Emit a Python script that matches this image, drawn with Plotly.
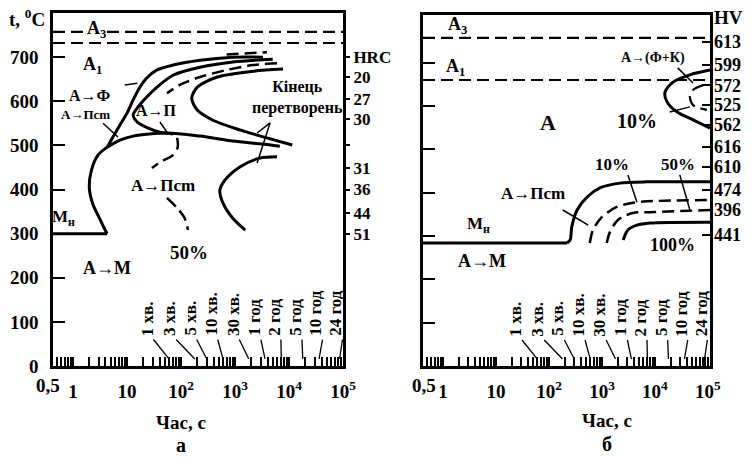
import plotly.graph_objects as go

# ================= DATA =================
# ---- panel (a) ----
A3_LEFT = 757
A1_LEFT = 732
MS_LEFT = 300

FERRITE_START_T = [3300, 910, 225, 71, 36, 23, 17, 13, 10, 7.4, 5.5, 4.3]
FERRITE_START_C = [700, 700, 693, 682, 671, 652, 630, 603, 573, 546, 519, 496]

FERRITE_50_T = [700, 3900]
FERRITE_50_C = [706, 711]

PEARLITE_START_T = [5000, 910, 225, 71, 36, 23, 16, 13, 15.5, 23, 41, 71]
PEARLITE_START_C = [695, 689, 677, 659, 632, 609, 587, 569, 553, 541, 530, 526]

PEARLITE_50_T = [6000, 2140, 710, 225, 95, 55]
PEARLITE_50_C = [686, 682, 671, 655, 637, 618]

PEARLITE_END_T = [7760, 2140, 470, 200, 158, 200, 390, 1230, 3890, 11500]
PEARLITE_END_C = [673, 668, 655, 632, 607, 580, 557, 535, 517, 501]

BAINITE_TOP_T = [4.3, 7.4, 13, 55, 225, 910, 3160, 6760]
BAINITE_TOP_C = [496, 512, 521, 528, 521, 510, 503, 498]

BAINITE_LOW_T = [4.3, 2.9, 2.2, 2.0, 2.3, 3.2, 4.1, 4.3]
BAINITE_LOW_C = [496, 478, 444, 406, 369, 331, 304, 300]

BAINITE_50A_T = [85, 87, 71, 41, 29]
BAINITE_50A_C = [517, 496, 478, 462, 449]
BAINITE_50B_T = [55, 85, 117, 135]
BAINITE_50B_C = [381, 358, 335, 308]

BAINITE_END_T = [6000, 2880, 1230, 650, 525, 600, 910, 1550]
BAINITE_END_C = [474, 471, 451, 421, 399, 369, 335, 308]

HRC_AT_C = [700, 655, 604, 560, 500, 449, 400, 347, 300]
HRC_TEXT = ["HRC", "20", "27", "30", "", "31", "36", "44", "51"]

# ---- panel (б) ----
A3_RIGHT = 757
A1_RIGHT = 660
MS_RIGHT = 284

FK_START_T = [110000, 45700, 21900, 15500, 17000, 26300, 52500, 110000]
FK_START_C = [683, 672, 655, 632, 609, 586, 568, 549]

FK_10_T = [81300, 52500, 45700, 52500, 95500]
FK_10_C = [648, 637, 621, 602, 591]

BS_START_T = [219, 251, 269, 339, 525, 912, 2188, 7079, 110000]
BS_START_C = [284, 291, 321, 360, 390, 411, 422, 425, 425]

BS_10_T = [589, 676, 1000, 1905, 4571, 110000]
BS_10_C = [284, 314, 344, 367, 378, 383]

BS_50_T = [1230, 1413, 1995, 3802, 8128, 110000]
BS_50_C = [284, 309, 337, 353, 355, 360]

BS_100_T = [2512, 3090, 4571, 8128, 110000]
BS_100_C = [291, 314, 325, 330, 332]

HV_AT_C = [748, 695, 648, 602, 556, 505, 459, 406, 360, 302]
HV_TEXT = ["613", "599", "572", "525", "562", "616", "610", "474", "396", "441"]

# ---- shared time scale ----
TIME_MARK_S = [60, 180, 300, 600, 1800, 3600, 7200, 18000, 36000, 86400]
TIME_MARK_TEXT = ["1 хв.", "3 хв.", "5 хв.", "10 хв.", "30 хв.",
                  "1 год", "2 год", "5 год", "10 год", "24 год"]
TIME_LABEL_LOG = [1.37, 1.79, 2.17, 2.56, 2.96, 3.36, 3.73, 4.12, 4.50, 4.87]

X_TICK_VALUES = [1, 10, 100, 1000, 10000, 100000]
X_TICK_TEXT = ["1", "10", "10<sup>2</sup>", "10<sup>3</sup>", "10<sup>4</sup>", "10<sup>5</sup>"]
Y_TICKS = [0, 100, 200, 300, 400, 500, 600, 700]

# ================= FIGURE =================
FONT = "Liberation Serif, Times New Roman, serif"
W, H = 754, 457

fig = go.Figure()


def curve(t, c, xa, ya, dash="solid", width=3.0, smooth=True):
    fig.add_trace(go.Scatter(
        x=t, y=c, mode="lines", xaxis=xa, yaxis=ya,
        line=dict(color="black", width=width, dash=dash,
                  shape="spline" if smooth else "linear", smoothing=0.8),
        showlegend=False, hoverinfo="skip", cliponaxis=True))


DASH = "12px,6px"
XL0 = 10 ** -0.37
XR0 = 10 ** -0.38
XR1 = 10 ** 5.04

# panel a
curve([XL0, 1e5], [A3_LEFT, A3_LEFT], "x", "y", DASH, 2.2, False)
curve([XL0, 1e5], [A1_LEFT, A1_LEFT], "x", "y", DASH, 2.2, False)
curve(FERRITE_START_T, FERRITE_START_C, "x", "y")
curve(FERRITE_50_T, FERRITE_50_C, "x", "y", DASH, 2.5)
curve(PEARLITE_START_T, PEARLITE_START_C, "x", "y")
curve(PEARLITE_50_T, PEARLITE_50_C, "x", "y", DASH, 2.5)
curve(PEARLITE_END_T, PEARLITE_END_C, "x", "y")
curve(BAINITE_TOP_T, BAINITE_TOP_C, "x", "y")
curve(BAINITE_LOW_T, BAINITE_LOW_C, "x", "y")
curve([BAINITE_LOW_T[-1], XL0], [MS_LEFT, MS_LEFT], "x", "y", "solid", 3, False)
curve(BAINITE_50A_T, BAINITE_50A_C, "x", "y", DASH, 2.5)
curve(BAINITE_50B_T, BAINITE_50B_C, "x", "y", DASH, 2.5)
curve(BAINITE_END_T, BAINITE_END_C, "x", "y")
# leaders panel a
curve([9.1, 15.5], [637, 641], "x", "y", "solid", 1.5, False)
curve([3.6, 6.8], [550, 519], "x", "y", "solid", 1.5, False)
curve([40.7, 55], [553, 530], "x", "y", "solid", 1.5, False)
curve([2570, 4470, 2570], [528, 551, 460], "x", "y", "solid", 1.5, False)

# panel б
curve([XR0, XR1], [A3_RIGHT, A3_RIGHT], "x2", "y2", DASH, 2.2, False)
curve([XR0, XR1], [A1_RIGHT, A1_RIGHT], "x2", "y2", DASH, 2.2, False)
curve(FK_START_T, FK_START_C, "x2", "y2")
curve(FK_10_T, FK_10_C, "x2", "y2", DASH, 2.3)
curve([XR0, BS_START_T[0]], [MS_RIGHT, MS_RIGHT], "x2", "y2", "solid", 3, False)
curve(BS_START_T, BS_START_C, "x2", "y2")
curve(BS_10_T, BS_10_C, "x2", "y2", DASH, 2.5)
curve(BS_50_T, BS_50_C, "x2", "y2", DASH, 2.5)
curve(BS_100_T, BS_100_C, "x2", "y2")
# leaders panel б
curve([26900, 52500], [688, 653], "x2", "y2", "solid", 1.5, False)
curve([19000, 45700], [586, 598], "x2", "y2", "solid", 1.5, False)
curve([182, 550], [360, 325], "x2", "y2", "solid", 1.5, False)
curve([3090, 4571], [441, 378], "x2", "y2", "solid", 1.5, False)
curve([29500, 45700], [441, 360], "x2", "y2", "solid", 1.5, False)

# time marks (both panels)
for xa, ya in (("x", "y"), ("x2", "y2")):
    for pos, target in zip(TIME_LABEL_LOG, TIME_MARK_S):
        curve([10 ** (pos + 0.12), target], [60, 16], xa, ya, "solid", 1.3, False)

# invisible traces for the right-hand axes
fig.add_trace(go.Scatter(x=[1], y=[0], xaxis="x", yaxis="y3", mode="markers",
                         marker=dict(opacity=0), showlegend=False, hoverinfo="skip"))
fig.add_trace(go.Scatter(x=[1], y=[0], xaxis="x2", yaxis="y4", mode="markers",
                         marker=dict(opacity=0), showlegend=False, hoverinfo="skip"))

# ---------- axes ----------
minor_vals = [m * 10 ** k for k in range(-1, 5) for m in range(1, 10)
              if 0.5 <= m * 10 ** k <= 1e5] + [1e5]
minor_text = [X_TICK_TEXT[X_TICK_VALUES.index(v)] if v in X_TICK_VALUES else ""
              for v in minor_vals]

axis_font = dict(family=FONT, size=19, color="black", weight="bold")
common_x = dict(type="log", showline=True, linecolor="black", linewidth=2.5, mirror=True,
                ticks="inside", ticklen=9, tickwidth=1.5, tickcolor="black",
                tickvals=minor_vals, ticktext=minor_text, tickfont=axis_font,
                showgrid=False, zeroline=False, ticklabelstandoff=6, automargin=False)
common_y = dict(showline=True, linecolor="black", linewidth=2.5, mirror=True,
                ticks="inside", ticklen=12, tickwidth=2, tickcolor="black",
                showgrid=False, zeroline=False, tickfont=axis_font, automargin=False)

fig.update_layout(
    width=W, height=H, margin=dict(l=0, r=0, t=0, b=0, autoexpand=False),
    paper_bgcolor="white", plot_bgcolor="white",
    font=dict(family=FONT, size=17, color="black", weight="bold"),
    xaxis=dict(domain=[53 / W, 343 / W], range=[-0.37, 5.0], anchor="y", **common_x),
    yaxis=dict(domain=[1 - 366 / H, 1 - 13 / H], range=[0, 800], anchor="x",
               tickvals=Y_TICKS, ticklabelstandoff=8, **common_y),
    yaxis3=dict(overlaying="y", side="right", anchor="x", range=[0, 800],
                tickvals=HRC_AT_C, ticktext=HRC_TEXT, ticks="outside", ticklen=6,
                tickwidth=2, tickcolor="black", showgrid=False, zeroline=False,
                showline=False, automargin=False,
                tickfont=dict(family=FONT, size=17, color="black", weight="bold")),
    xaxis2=dict(domain=[423 / W, 710 / W], range=[-0.38, 5.04], anchor="y2", **common_x),
    yaxis2=dict(domain=[1 - 366 / H, 1 - 15 / H], range=[0, 810], anchor="x2",
                tickvals=Y_TICKS[1:], showticklabels=False, **common_y),
    yaxis4=dict(overlaying="y2", side="right", anchor="x2", range=[0, 810],
                tickvals=HV_AT_C, ticktext=HV_TEXT, ticks="inside", ticklen=8,
                tickwidth=2, tickcolor="black", showgrid=False, zeroline=False,
                showline=False, ticklabelstandoff=3, automargin=False,
                tickfont=dict(family=FONT, size=18, color="black", weight="bold")),
)

# ---------- annotations ----------
ann = []


def txt(text, x, y, xref, yref, size=17, bg=None, **kw):
    d = dict(text=text, x=x, y=y, xref=xref, yref=yref, showarrow=False,
             xanchor="center", yanchor="middle",
             font=dict(family=FONT, size=size, color="black", weight="bold"))
    if bg:
        d["bgcolor"] = bg
        d["borderpad"] = 0
    d.update(kw)
    ann.append(d)


# panel a
txt("A<sub>3</sub>", 0.43, 763, "x", "y", 18, bg="white")
txt("A<sub>1</sub>", 0.37, 680, "x", "y", 18)
txt("A→Ф", 0.31, 612, "x", "y", 16)
txt("A→Пcm", 0.24, 571, "x", "y", 13)
txt("A→П", 1.54, 580, "x", "y", 16)
txt("Кінець<br>перетворень", 4.15, 608, "x", "y", 16)
txt("A→Пcm", 1.67, 408, "x", "y", 17)
txt("50%", 2.15, 258, "x", "y", 19)
txt("M<sub>н</sub>", -0.17, 335, "x", "y", 17)
txt("A→M", 0.63, 222, "x", "y", 18)
# panel б
txt("A<sub>3</sub>", 0.28, 785, "x2", "y2", 18)
txt("A<sub>1</sub>", 0.23, 688, "x2", "y2", 18)
txt("A→(Ф+К)", 3.96, 711, "x2", "y2", 14)
txt("A", 1.98, 561, "x2", "y2", 22)
txt("10%", 3.66, 565, "x2", "y2", 20)
txt("10%", 3.19, 464, "x2", "y2", 17)
txt("50%", 4.43, 464, "x2", "y2", 17)
txt("A→Пcm", 1.70, 397, "x2", "y2", 17)
txt("M<sub>н</sub>", 0.66, 325, "x2", "y2", 17)
txt("A→M", 0.74, 242, "x2", "y2", 18)
txt("100%", 4.34, 279, "x2", "y2", 18)

# time mark labels
for xa, ya in (("x", "y"), ("x2", "y2")):
    for pos, label in zip(TIME_LABEL_LOG, TIME_MARK_TEXT):
        txt(label, pos, 64, xa, ya, 17, textangle=-90, yanchor="bottom")

# paper-level labels
txt("t, <sup>0</sup>C", 27 / W, 1 - 18 / H, "paper", "paper", 19)
txt("0,5", 48 / W, 1 - 385 / H, "paper", "paper", 19)
txt("0,5", 424 / W, 1 - 385 / H, "paper", "paper", 19)
txt("HV", 728 / W, 1 - 18 / H, "paper", "paper", 19)
txt("Час, с", 181 / W, 1 - 422 / H, "paper", "paper", 19)
txt("а", 181 / W, 1 - 445 / H, "paper", "paper", 20)
txt("Час, с", 607 / W, 1 - 420 / H, "paper", "paper", 19)
txt("б", 607 / W, 1 - 444 / H, "paper", "paper", 20)

fig.update_layout(annotations=ann)
fig.write_html("out.html", config={"displayModeBar": False},
               post_script="document.body.style.margin='0';")
